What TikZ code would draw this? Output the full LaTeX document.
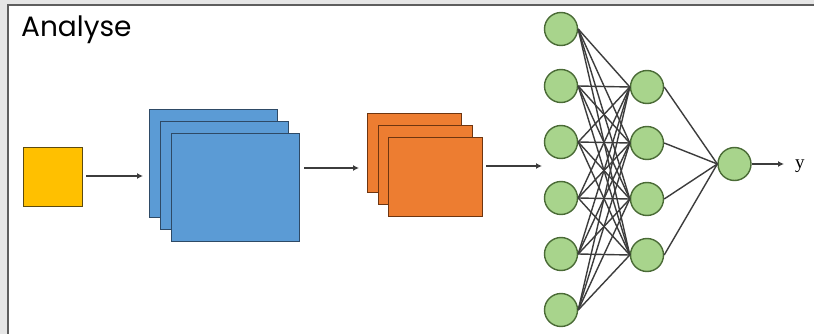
\documentclass[tikz,border=0pt]{standalone}
\usepackage{fontspec}
\newfontfamily\popfont{Poppins}
\newfontfamily\serfont{Liberation Serif}
\usetikzlibrary{arrows.meta}
\definecolor{bgout}{HTML}{E6E6E6}
\definecolor{frameline}{HTML}{5E5E5E}
\definecolor{yelfill}{HTML}{FFC000}
\definecolor{yeldraw}{HTML}{5C4A10}
\definecolor{bluefill}{HTML}{5B9BD5}
\definecolor{bluedraw}{HTML}{2E4A66}
\definecolor{orgfill}{HTML}{ED7D31}
\definecolor{orgdraw}{HTML}{6E3510}
\definecolor{grnfill}{HTML}{A8D48C}
\definecolor{grndraw}{HTML}{4A6B36}
\definecolor{linec}{HTML}{3C3C3C}
\tikzset{
  yelbox/.style={draw=yeldraw,fill=yelfill,line width=1.3pt,inner sep=0pt,anchor=north west},
  bluebox/.style={draw=bluedraw,fill=bluefill,line width=1.3pt,inner sep=0pt,anchor=north west,minimum width=128pt,minimum height=108pt},
  orgbox/.style={draw=orgdraw,fill=orgfill,line width=1.3pt,inner sep=0pt,anchor=north west,minimum width=94pt,minimum height=79pt},
  neuron/.style={circle,draw=grndraw,fill=grnfill,line width=1.4pt,minimum size=33pt,inner sep=0pt},
  arr/.style={draw=linec,line width=1.7pt,-{Latex[length=6pt,width=6pt]}},
  conn/.style={draw=linec,line width=1.4pt}
}
\begin{document}
\begin{tikzpicture}[x=1pt,y=-1pt]
\useasboundingbox (0,0) rectangle (814,334);
\fill[bgout] (0,0) rectangle (814,334);
\fill[white] (7.5,5.5) rectangle (814,334);
\draw[frameline,line width=2pt] (7.5,334) -- (7.5,5.5) -- (814,5.5);
\node[anchor=base west,inner sep=0pt,font=\popfont\fontsize{28}{32}\selectfont] (title) at (21,37) {Analyse};
% yellow input
\node[yelbox,minimum width=59pt,minimum height=59pt] (yel) at (23,147) {};
% blue stack
\node[bluebox] (blue1) at (149,109) {};
\node[bluebox] (blue2) at (160,121) {};
\node[bluebox] (blue3) at (171,133) {};
% orange stack
\node[orgbox] (org1) at (367,113) {};
\node[orgbox] (org2) at (378,125) {};
\node[orgbox] (org3) at (388,137) {};
% network
\foreach \i/\y in {1/29,2/86,3/142,4/198,5/254,6/310}
  \node[neuron] (in\i) at (561,\y) {};
\foreach \j/\y in {1/87,2/143,3/199,4/255}
  \node[neuron] (h\j) at (647,\y) {};
\node[neuron] (out) at (734.5,164) {};
\foreach \i in {1,...,6}
  \foreach \j in {1,...,4}
    \draw[conn] (in\i.east) -- (h\j.west);
\foreach \j in {1,...,4}
  \draw[conn] (h\j.east) -- (out.west);
\node[anchor=base west,inner sep=0pt,font=\serfont\fontsize{19}{22}\selectfont] (ylab) at (795,168) {y};
% arrows
\coordinate (a1s) at (86,176);
\coordinate (a1e) at (143,176);
\draw[arr] (a1s) -- (a1e);
\coordinate (a2s) at (304,168);
\coordinate (a2e) at (359,168);
\draw[arr] (a2s) -- (a2e);
\coordinate (a3s) at (486,166);
\coordinate (a3e) at (542,166);
\draw[arr] (a3s) -- (a3e);
\coordinate (a4e) at (784,164);
\draw[arr] (out.east) -- (a4e);
\end{tikzpicture}
\end{document}
